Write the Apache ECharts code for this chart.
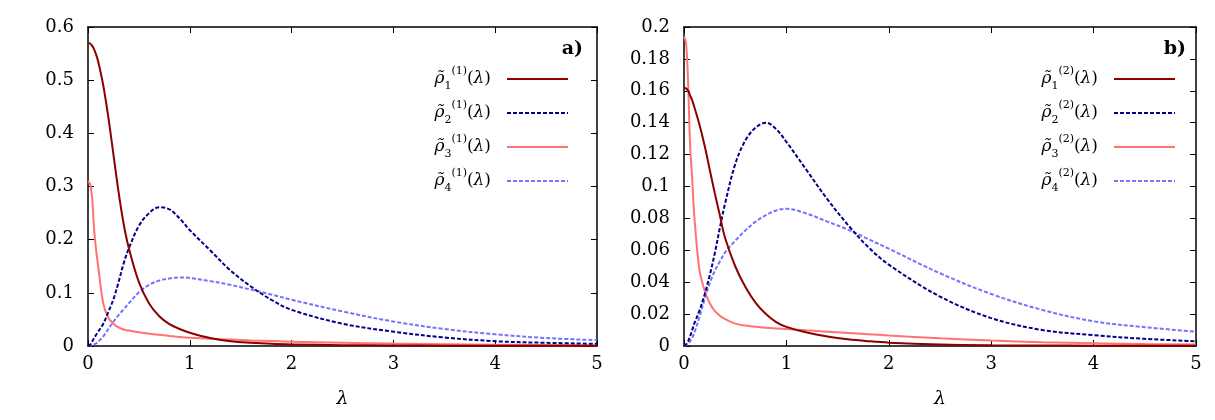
<!DOCTYPE html>
<html lang="en">
<head>
    <meta charset="UTF-8">
    <title>rho densities</title>
    <script type="text/javascript" src="https://cdn.jsdelivr.net/npm/echarts@6/dist/echarts.min.js"></script>
    <style>
        html, body { margin: 0; padding: 0; background: #fff; }
    </style>
</head>
<body>
<div id="chart" style="width: 1215px;height:420px;"></div>
<script>
    // lambda grid shared by all curves
    var lam = [0, 0.02, 0.04, 0.06, 0.08, 0.1, 0.15, 0.2, 0.25, 0.3, 0.35, 0.4, 0.5, 0.6, 0.7, 0.8, 0.9,
        1.0, 1.2, 1.4, 1.6, 1.8, 2.0, 2.5, 3.0, 3.5, 4.0, 4.5, 5.0];

    // panel a)  rho^(1)
    var rhoA1 = [0.570, 0.569, 0.565, 0.558, 0.548, 0.535, 0.49, 0.43, 0.36, 0.29, 0.23, 0.185, 0.12, 0.08, 0.056, 0.041, 0.032,
        0.025, 0.015, 0.009, 0.006, 0.004, 0.003, 0.0015, 0.001, 0.0006, 0.0004, 0.0003, 0.0002];
    var rhoA2 = [0, 0.002, 0.008, 0.015, 0.021, 0.027, 0.042, 0.064, 0.088, 0.12, 0.155, 0.183, 0.226, 0.250, 0.261, 0.257, 0.240,
        0.218, 0.18, 0.142, 0.112, 0.087, 0.068, 0.042, 0.027, 0.016, 0.009, 0.006, 0.004];
    var rhoA3 = [0.31, 0.305, 0.28, 0.22, 0.18, 0.15, 0.08, 0.053, 0.042, 0.035, 0.031, 0.029, 0.026, 0.023, 0.021, 0.019, 0.017,
        0.0155, 0.0135, 0.012, 0.0105, 0.0093, 0.008, 0.006, 0.0045, 0.0035, 0.0025, 0.0018, 0.0012];
    var rhoA4 = [0, 0.0005, 0.0015, 0.003, 0.005, 0.008, 0.018, 0.032, 0.046, 0.058, 0.069, 0.08, 0.101, 0.115, 0.123, 0.127, 0.129,
        0.128, 0.122, 0.115, 0.106, 0.097, 0.087, 0.065, 0.046, 0.032, 0.022, 0.015, 0.011];

    // panel b)  rho^(2)
    var rhoB1 = [0.162, 0.1615, 0.160, 0.157, 0.154, 0.150, 0.139, 0.126, 0.111, 0.096, 0.082, 0.068, 0.05, 0.037, 0.027, 0.020, 0.015,
        0.012, 0.0085, 0.006, 0.0042, 0.003, 0.0021, 0.001, 0.0005, 0.0003, 0.0002, 0.0001, 0.0001];
    var rhoB2 = [0, 0.001, 0.003, 0.006, 0.01, 0.014, 0.022, 0.032, 0.044, 0.058, 0.074, 0.089, 0.114, 0.129, 0.137, 0.14, 0.136,
        0.128, 0.110, 0.092, 0.076, 0.062, 0.051, 0.031, 0.0175, 0.010, 0.0068, 0.0045, 0.003];
    var rhoB3 = [0.194, 0.19, 0.165, 0.125, 0.105, 0.082, 0.048, 0.035, 0.027, 0.022, 0.019, 0.017, 0.014, 0.0128, 0.012, 0.0115, 0.011,
        0.0107, 0.0098, 0.009, 0.0082, 0.0074, 0.0066, 0.0048, 0.0034, 0.0024, 0.0017, 0.0012, 0.0009];
    var rhoB4 = [0, 0.0005, 0.0015, 0.003, 0.005, 0.008, 0.018, 0.029, 0.039, 0.047, 0.053, 0.0585, 0.066, 0.0725, 0.078, 0.082, 0.085,
        0.086, 0.083, 0.078, 0.073, 0.067, 0.061, 0.0456, 0.0326, 0.0226, 0.0155, 0.0118, 0.009];

    var xTicks = {min: 0, max: 5, interval: 1};
    var yTicksA = {min: 0, max: 0.6, interval: 0.1};
    var yTicksB = {min: 0, max: 0.2, interval: 0.02};

    var colors = ['#8b0000', '#00008b', '#ff7373', '#7373ff'];
    var dashed = [false, true, false, true];
    var serif = 'DejaVu Serif';

    function pairs(ys) {
        return lam.map(function (x, i) { return [x, ys[i]]; });
    }

    function xAxisFor(grid, top) {
        return {
            type: 'value', gridIndex: grid, position: top ? 'top' : 'bottom',
            min: xTicks.min, max: xTicks.max, interval: xTicks.interval,
            axisLine: {show: true, onZero: false, lineStyle: {color: '#000', width: 1.5}},
            axisTick: {show: true, inside: true, length: 6, lineStyle: {color: '#000', width: 1}},
            axisLabel: {show: !top, margin: 9, color: '#000', fontFamily: serif, fontSize: 18},
            splitLine: {show: false},
            name: top ? '' : 'λ', nameLocation: 'middle', nameGap: 44,
            nameTextStyle: {fontFamily: serif, fontStyle: 'italic', fontSize: 19, color: '#000'}
        };
    }

    function yAxisFor(grid, right, t) {
        return {
            type: 'value', gridIndex: grid, position: right ? 'right' : 'left',
            min: t.min, max: t.max, interval: t.interval,
            axisLine: {show: true, onZero: false, lineStyle: {color: '#000', width: 1.5}},
            axisTick: {show: true, inside: true, length: 6, lineStyle: {color: '#000', width: 1}},
            axisLabel: {show: !right, margin: 14, color: '#000', fontFamily: serif, fontSize: 18},
            splitLine: {show: false}
        };
    }

    function lineSeries(name, ys, i, axis) {
        return {
            name: name, type: 'line', xAxisIndex: axis, yAxisIndex: axis,
            data: pairs(ys), showSymbol: false, symbol: 'none',
            smooth: 0.35,
            lineStyle: {color: colors[i], width: 2, type: dashed[i] ? [4, 2] : 'solid'},
            itemStyle: {color: colors[i]},
            z: 4 - i
        };
    }

    var series = [];
    var namesA = ['a1', 'a2', 'a3', 'a4'];
    var namesB = ['b1', 'b2', 'b3', 'b4'];
    [rhoA1, rhoA2, rhoA3, rhoA4].forEach(function (ys, i) {
        series.push(lineSeries(namesA[i], ys, i, 0));
    });
    [rhoB1, rhoB2, rhoB3, rhoB4].forEach(function (ys, i) {
        series.push(lineSeries(namesB[i], ys, i, 2));
    });

    // legend label: rho-tilde with subscript index and superscript order
    function legendLabel(name) {
        var k = name.charAt(1);
        var order = name.charAt(0) == 'a' ? '1' : '2';
        return '{m|ρ̃}{sb|' + k + '}{sp|(' + order + ')}{n|(}{m|λ}{n|)}{g|}';
    }

    var rich = {
        m: {fontFamily: serif, fontStyle: 'italic', fontSize: 17, lineHeight: 26, color: '#000'},
        n: {fontFamily: serif, fontSize: 17, lineHeight: 26, color: '#000'},
        sb: {fontFamily: serif, fontSize: 11, lineHeight: 11, verticalAlign: 'bottom', color: '#000'},
        sp: {fontFamily: serif, fontSize: 11, lineHeight: 11, verticalAlign: 'top', color: '#000'},
        g: {width: 11}
    };

    function legendFor(names, right) {
        return {
            data: names, orient: 'vertical', right: right, top: 66, align: 'right',
            itemWidth: 61, itemHeight: 14, itemGap: 8, padding: 0,
            selectedMode: false,
            itemStyle: {opacity: 0},
            formatter: legendLabel,
            textStyle: {rich: rich}
        };
    }

    var titleRich = {
        b: {fontFamily: serif, fontWeight: 'bold', fontSize: 19, color: '#000'},
        n: {fontFamily: serif, fontSize: 19, color: '#000'}
    };

    var option = {
        backgroundColor: '#fff',
        animation: false,
        title: [
            {text: '{b|a}{n|)}', right: 632, top: 40, padding: 0, textStyle: {rich: titleRich}},
            {text: '{b|b}{n|)}', right: 29, top: 40, padding: 0, textStyle: {rich: titleRich}}
        ],
        legend: [legendFor(namesA, 646), legendFor(namesB, 39)],
        grid: [
            {left: 88, right: 618, top: 27, bottom: 74},
            {left: 684, right: 19, top: 27, bottom: 74}
        ],
        xAxis: [xAxisFor(0, false), xAxisFor(0, true), xAxisFor(1, false), xAxisFor(1, true)],
        yAxis: [yAxisFor(0, false, yTicksA), yAxisFor(0, true, yTicksA),
            yAxisFor(1, false, yTicksB), yAxisFor(1, true, yTicksB)],
        series: series
    };

    var myChart = echarts.init(document.getElementById('chart'));
    myChart.setOption(option);
</script>
</body>
</html>
